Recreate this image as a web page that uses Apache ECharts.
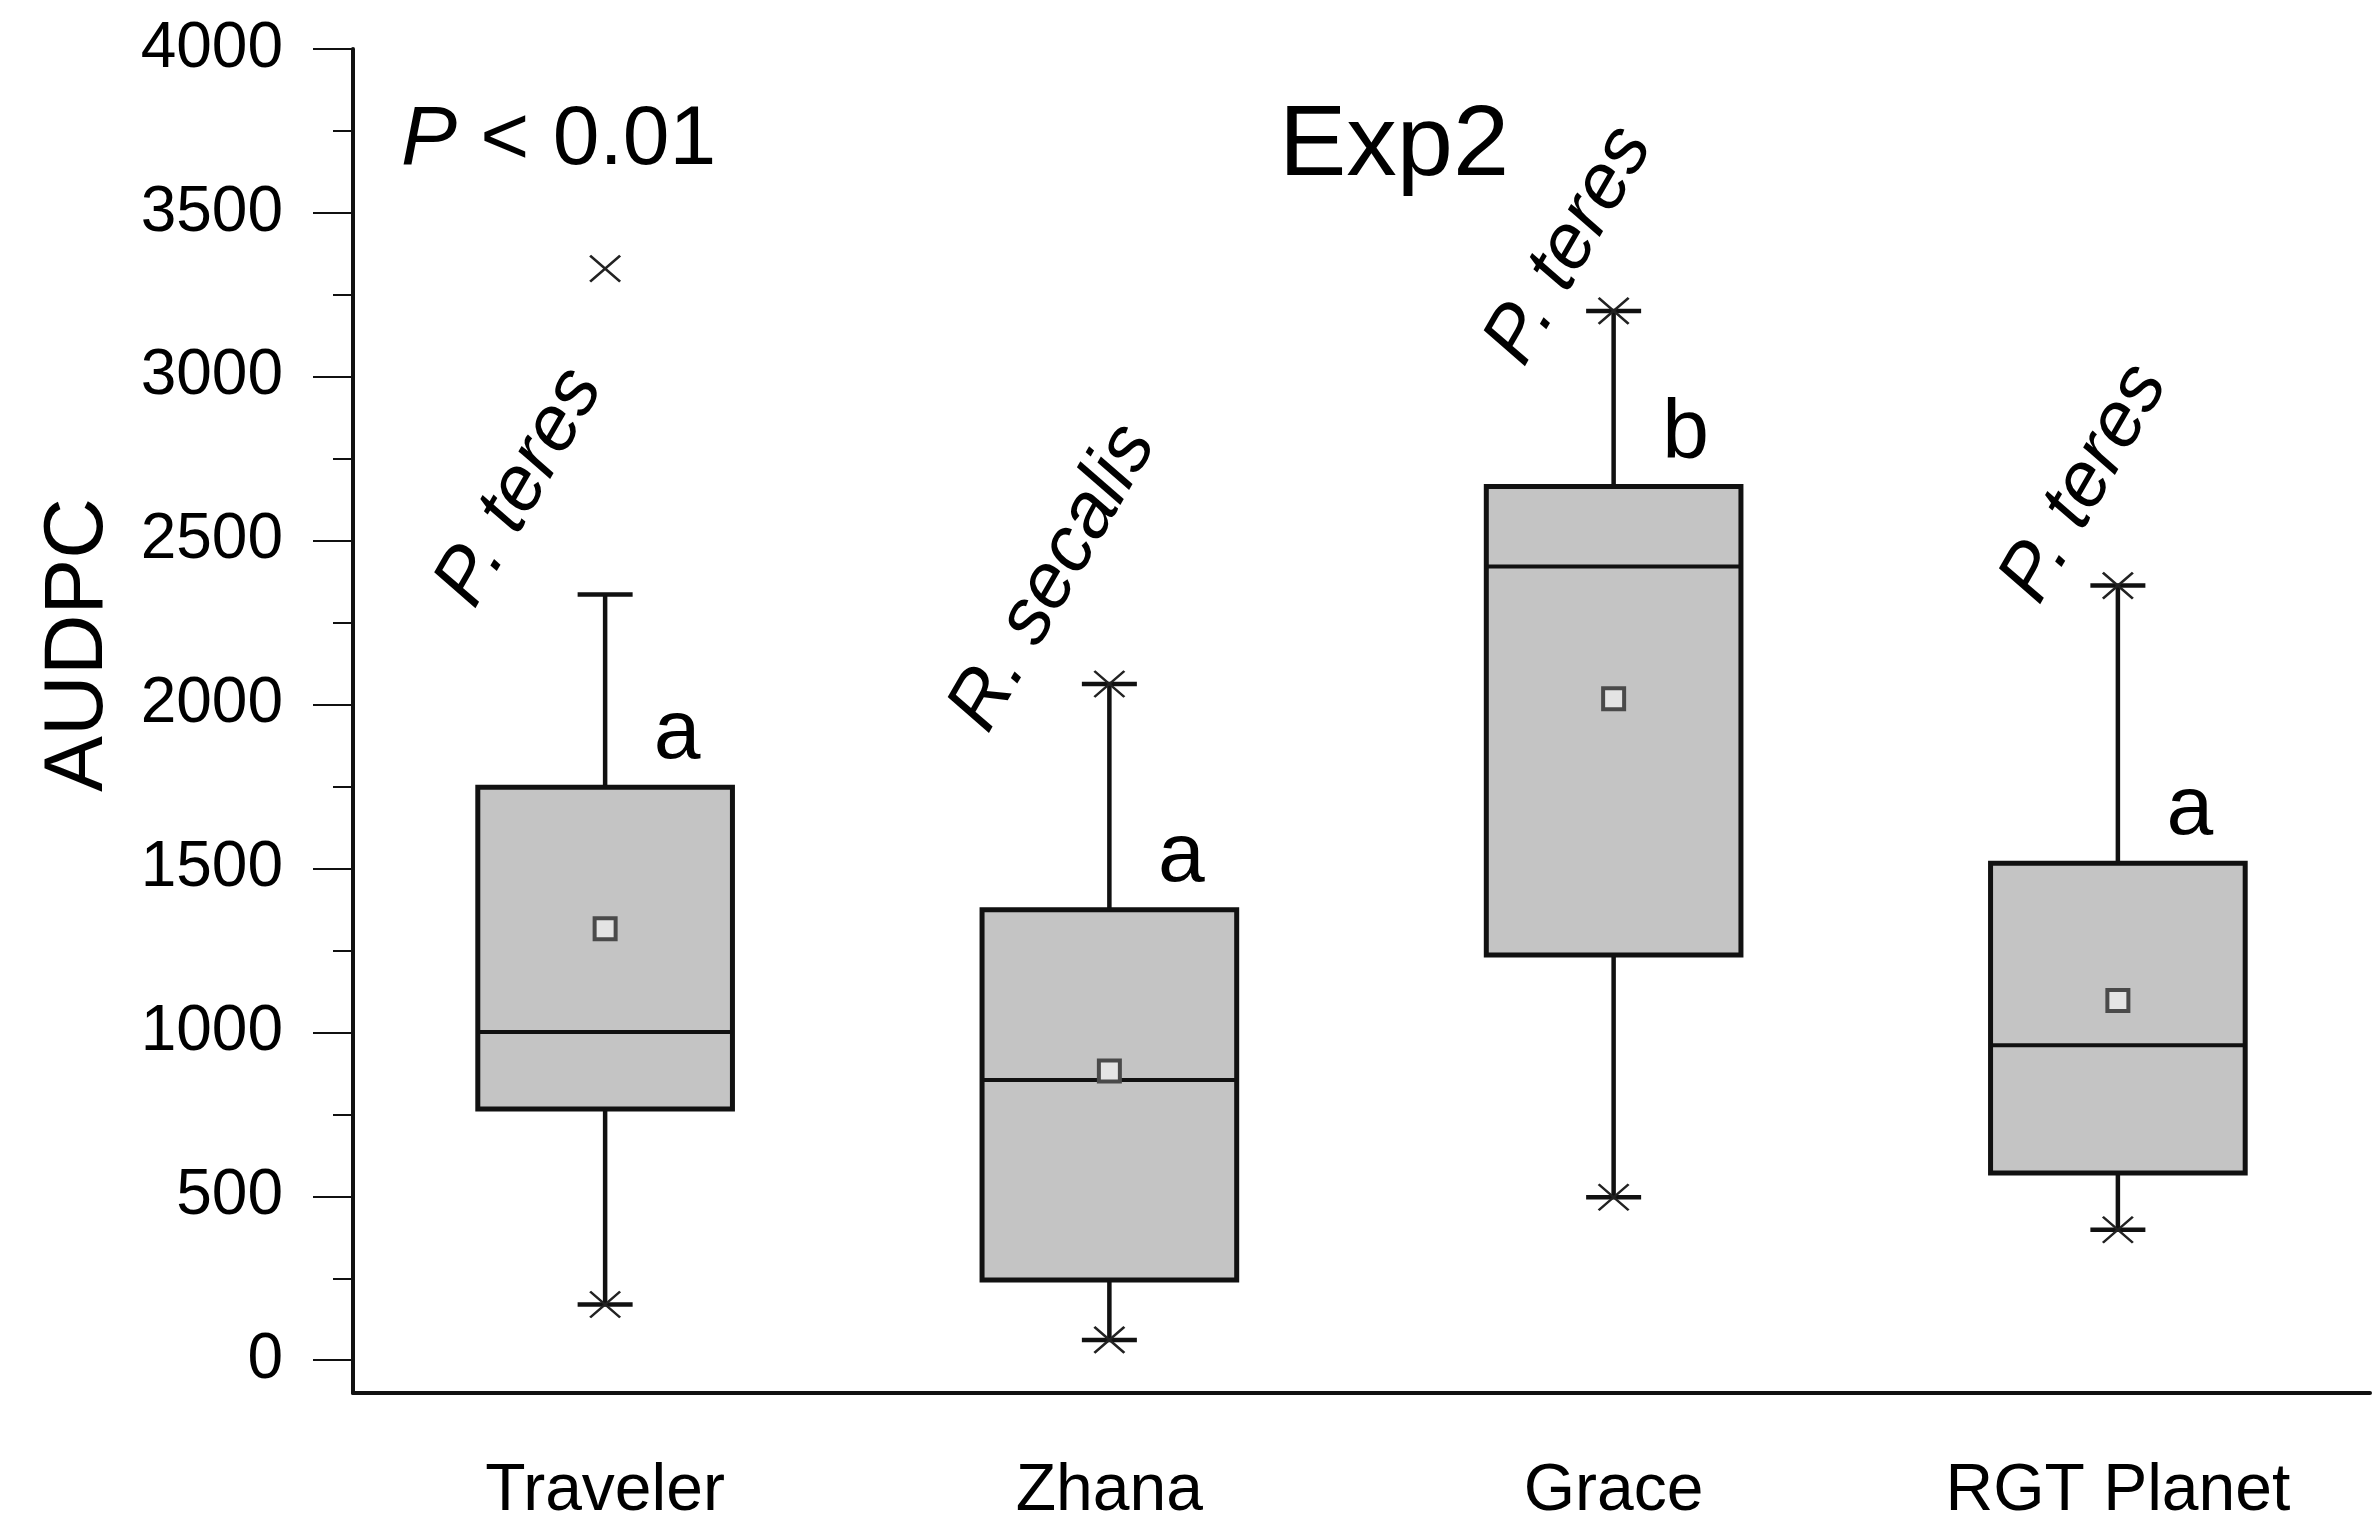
<!DOCTYPE html>
<html><head><meta charset="utf-8">
<script src="https://cdn.jsdelivr.net/npm/echarts@6/dist/echarts.min.js"></script>
<style>html,body{margin:0;padding:0;background:#fff}#c{width:2379px;height:1525px}</style>
</head><body><div id="c"></div>
<script>
// ---- data ----
const categories = ['Traveler', 'Zhana', 'Grace', 'RGT Planet'];
const whiskerLow  = [170, 62, 497, 398];
const q1          = [766, 245, 1236, 571];
const median      = [1001, 855, 2421, 961];
const q3          = [1748, 1374, 2665, 1516];
const whiskerHigh = [2336, 2063, 3201, 2363];
const means       = [1316, 882, 2018, 1097];
const minVals     = [170, 62, 497, 398];
const maxVals     = [3330, 2063, 3201, 2363];
const groupLetters = ['a', 'a', 'b', 'a'];
const pathogens    = ['P. teres', 'R. secalis', 'P. teres', 'P. teres'];
const pathogenAt   = [2663, 2387, 3401, 2675];
const yTickLabels  = [0, 500, 1000, 1500, 2000, 2500, 3000, 3500, 4000];
const yMinorTicks  = [250, 750, 1250, 1750, 2250, 2750, 3250, 3750];

// ---- layout constants ----
const FONT = '"Liberation Sans", Arial, sans-serif';
const pathogenDx = [-85, -56, -44, -33];
const ROT = 60;
const INK = '#111';

const boxData = categories.map((c, i) => [i, whiskerLow[i], q1[i], median[i], q3[i], whiskerHigh[i]]);
const meanData = categories.map((c, i) => [i, means[i]]);
const crossData = [];
categories.forEach((c, i) => { crossData.push([i, minVals[i]]); crossData.push([i, maxVals[i]]); });
const letterData = categories.map((c, i) => ({ value: [i, q3[i]], label: { formatter: groupLetters[i] } }));
const th = ROT * Math.PI / 180;
const pathogenData = categories.map((c, i) => ({
  value: [i, pathogenAt[i]],
  // label offset is applied in the rotated frame; convert a horizontal screen shift
  label: { formatter: pathogens[i], offset: [pathogenDx[i] * Math.cos(th), pathogenDx[i] * Math.sin(th)] }
}));

const chart = echarts.init(document.getElementById('c'), null, { renderer: 'canvas' });
chart.setOption({
  backgroundColor: '#fff',
  animation: false,
  grid: { left: 353, top: 49, width: 2017, height: 1347, containLabel: false },
  xAxis: {
    type: 'category',
    data: categories,
    boundaryGap: true,
    axisLine: { onZero: false, lineStyle: { color: INK, width: 4 } },
    axisTick: { alignWithLabel: true, length: 40, lineStyle: { color: INK, width: 2 } },
    axisLabel: { fontSize: 66, color: '#000', margin: 66, fontFamily: FONT },
    splitLine: { show: false }
  },
  yAxis: [{
    type: 'value',
    min: -100, max: 4000,
    axisLine: { show: true, onZero: false, lineStyle: { color: INK, width: 4 } },
    axisTick: { show: true, length: 40, customValues: yTickLabels, lineStyle: { color: INK, width: 2 } },
    axisLabel: { fontSize: 64, color: '#000', margin: 70, fontFamily: FONT, customValues: yTickLabels,
      formatter: function (v) { return String(v); } },
    splitLine: { show: false }
  }, {
    type: 'value',
    min: -100, max: 4000,
    position: 'left',
    axisLine: { show: false },
    axisTick: { show: true, length: 20, customValues: yMinorTicks, lineStyle: { color: INK, width: 2 } },
    axisLabel: { show: false },
    splitLine: { show: false }
  }],
  graphic: [
    { type: 'text', x: 79, y: 645, rotation: Math.PI / 2,
      style: { text: 'AUDPC', fontSize: 84, fontFamily: FONT, fill: '#000', align: 'center', verticalAlign: 'middle' } },
    { type: 'text', x: 401, y: 141,
      style: { text: '{i|P} < 0.01', fontSize: 84, fontFamily: FONT, fill: '#000', align: 'left', verticalAlign: 'middle',
        rich: { i: { fontStyle: 'italic', fontSize: 84, fontFamily: FONT } } } },
    { type: 'text', x: 1279, y: 147,
      style: { text: 'Exp2', fontSize: 101, fontFamily: FONT, fill: '#000', align: 'left', verticalAlign: 'middle' } }
  ],
  series: [
    {
      type: 'custom',
      name: 'box',
      data: boxData,
      encode: { x: 0, y: [1, 2, 3, 4, 5] },
      z: 2,
      renderItem: function (params, api) {
        const xi = api.value(0);
        const pLow = api.coord([xi, api.value(1)]);
        const pQ1 = api.coord([xi, api.value(2)]);
        const pMed = api.coord([xi, api.value(3)]);
        const pQ3 = api.coord([xi, api.value(4)]);
        const pHigh = api.coord([xi, api.value(5)]);
        const band = api.size([1, 0])[0];
        const bw = band * 0.505;
        const cw = 55;
        const cx = pMed[0];
        const ls = { stroke: INK, lineWidth: 4.5, fill: null };
        return {
          type: 'group',
          children: [
            { type: 'line', shape: { x1: cx, y1: pQ3[1], x2: cx, y2: pHigh[1] }, style: ls },
            { type: 'line', shape: { x1: cx, y1: pQ1[1], x2: cx, y2: pLow[1] }, style: ls },
            { type: 'line', shape: { x1: cx - cw / 2, y1: pHigh[1], x2: cx + cw / 2, y2: pHigh[1] }, style: ls },
            { type: 'line', shape: { x1: cx - cw / 2, y1: pLow[1], x2: cx + cw / 2, y2: pLow[1] }, style: ls },
            { type: 'rect', shape: { x: cx - bw / 2, y: pQ3[1], width: bw, height: pQ1[1] - pQ3[1] },
              style: { fill: '#c4c4c4', stroke: INK, lineWidth: 5 } },
            { type: 'line', shape: { x1: cx - bw / 2, y1: pMed[1], x2: cx + bw / 2, y2: pMed[1] },
              style: { stroke: INK, lineWidth: 4, fill: null } }
          ]
        };
      }
    },
    {
      type: 'scatter', name: 'mean', data: meanData, z: 3,
      symbol: 'rect', symbolSize: 21,
      itemStyle: { color: '#e4e4e4', borderColor: '#4a4a4a', borderWidth: 4, opacity: 1 }
    },
    {
      type: 'scatter', name: 'minmax', data: crossData, z: 4,
      symbol: 'path://M0,0L30,26M30,0L0,26', symbolSize: [30, 26],
      itemStyle: { color: 'none', borderColor: '#222', borderWidth: 2.5, opacity: 1 }
    },
    {
      type: 'scatter', name: 'letters', data: letterData, z: 5,
      symbolSize: 0, silent: true,
      itemStyle: { opacity: 1 },
      label: { show: true, position: 'inside', fontSize: 84, fontFamily: FONT, color: '#000',
        align: 'center', verticalAlign: 'middle', offset: [72, -52] }
    },
    {
      type: 'scatter', name: 'pathogens', data: pathogenData, z: 5,
      symbolSize: 0, silent: true,
      itemStyle: { opacity: 1 },
      label: { show: true, position: 'inside', fontSize: 78, fontStyle: 'italic', fontFamily: FONT, color: '#000',
        align: 'center', verticalAlign: 'middle', rotate: ROT }
    }
  ]
});
</script>
</body></html>
